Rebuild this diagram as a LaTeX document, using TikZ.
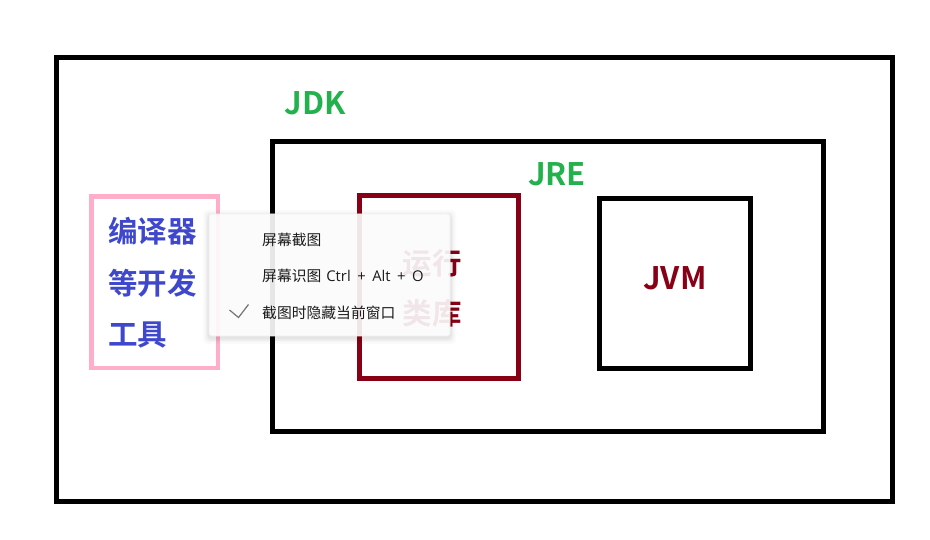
\documentclass[tikz,border=0pt]{standalone}
\usepackage{fontspec}
\newfontfamily\cjk{Noto Sans CJK SC}
\newfontfamily\cjkb{Noto Sans CJK SC Bold}
\newfontfamily\lat[WordSpace=1.7]{Open Sans}
\usetikzlibrary{positioning}
\definecolor{jgreen}{HTML}{22B14C}
\definecolor{dred}{HTML}{880015}
\definecolor{jblue}{HTML}{3F48CC}
\definecolor{jpink}{HTML}{FFAEC9}
\definecolor{menutext}{HTML}{1A1A1A}
\tikzset{
  box/.style={line width=5pt},
  title/.style={font=\cjkb\fontsize{31}{31}\selectfont, inner sep=0pt},
  big/.style={font=\cjkb\fontsize{29.5}{30}\selectfont, inner sep=0pt},
  menu/.style={font=\cjk\fontsize{14.8}{15}\selectfont, text=menutext, anchor=west, inner sep=0pt},
}
\begin{document}
\begin{tikzpicture}[x=1pt,y=-1pt]
\useasboundingbox (0,0) rectangle (930,540);
% boxes
\draw[box,black] (56.5,58) rectangle (892.5,501.5);
\draw[box,black] (272.5,141.8) rectangle (823.5,431.5);
\draw[box,dred] (359.5,196) rectangle (518.5,378);
\draw[box,black] (599.5,199) rectangle (750,368.5);
\draw[line width=4.5pt,jpink] (91.5,196.5) rectangle (218,368);
% labels
\node[title,text=jgreen] (jdk) at (315.5,103) {JDK};
\node[title,text=jgreen] (jre) at (557,174) {JRE};
\node[title,text=dred] (jvm) at (675,278) {JVM};
\node[big,text=dred] (yx) at (432,263.5) {运行};
\node[big,text=dred] (lk) at (432,313.5) {类库};
\node[big,text=jblue,anchor=west] (t1) at (108,231) {编译器};
\node[big,text=jblue,anchor=west] (t2) at (108,283) {等开发};
\node[big,text=jblue,anchor=west] (t3) at (108,335) {工具};
% popup shadow
\foreach \s/\o in {6/0.015,4.5/0.02,3/0.03,1.5/0.04}{
  \fill[black,opacity=\o,rounded corners=4pt] (209-\s,214-\s+2) rectangle (450+\s,336+\s+2);
}
\fill[white,opacity=0.9,rounded corners=3pt] (209,214) rectangle (450,336);
\draw[black!6,line width=0.6pt,rounded corners=3pt] (209,214) rectangle (450,336);
\node[menu] (m1) at (262,239.5) {屏幕截图};
\node[menu] (m2) at (262,276) {屏幕识图\hspace{5pt}{\lat Ctrl + Alt + O}};
\node[menu] (m3) at (262,312.5) {截图时隐藏当前窗口};
\draw[line width=1.2pt,black!55] (229.5,310) -- (238.5,317.5) -- (248.5,304.5);
\end{tikzpicture}
\end{document}
